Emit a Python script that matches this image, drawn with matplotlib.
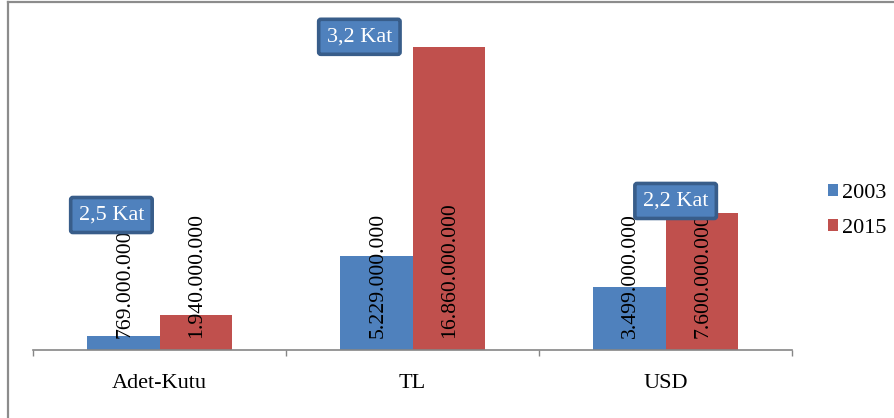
import matplotlib
matplotlib.use("Agg")
import matplotlib.pyplot as plt
from matplotlib.lines import Line2D
import numpy as np

categories = ["Adet-Kutu", "TL", "USD"]
series_names = ["2003", "2015"]
values_2003 = [769_000_000, 5_229_000_000, 3_499_000_000]
values_2015 = [1_940_000_000, 16_860_000_000, 7_600_000_000]

# callout anchor points (data coords: category position, value)
callout_x = [-0.19, 0.79, 2.04]
callout_y = [7.5e9, 17.4e9, 8.28e9]

blue = "#4F81BD"
red = "#C0504D"
edge_blue = "#385D8A"
axis_gray = "#868686"
serif = ["Liberation Serif", "DejaVu Serif"]

W, H, DPI = 894, 418, 100
fig = plt.figure(figsize=(W / DPI, H / DPI), dpi=DPI)
fig.patch.set_facecolor("white")

ax = fig.add_axes([33 / W, (H - 350) / H, (792 - 33) / W, (350 - 26) / H])
ax.set_xlim(-0.5, 2.5)
ax.set_ylim(0, 18e9)

x = np.arange(len(categories))
bw = 1 / 3.5
bars1 = ax.bar(x - bw / 2, values_2003, bw, color=blue, label=series_names[0], zorder=2)
bars2 = ax.bar(x + bw / 2, values_2015, bw, color=red, label=series_names[1], zorder=2)

def fmt(v):
    return f"{v:,}".replace(",", ".")

for bars, vals in ((bars1, values_2003), (bars2, values_2015)):
    for b, v in zip(bars, vals):
        ax.annotate(fmt(v), xy=(b.get_x() + b.get_width() / 2, 0),
                    xytext=(1, 8.6), textcoords="offset points",
                    rotation=90, ha="center", va="bottom",
                    fontsize=15.7, family=serif, color="black", zorder=3)

for cx, cy, a, b in zip(callout_x, callout_y, values_2003, values_2015):
    ratio = f"{b / a:.1f}".replace(".", ",") + " Kat"
    ax.text(cx, cy, ratio, ha="center", va="center", fontsize=16,
            family=serif, color="white", zorder=5,
            bbox=dict(boxstyle="round,pad=0.36,rounding_size=0.1",
                      facecolor=blue, edgecolor=edge_blue, linewidth=2.6))

for s in ("left", "right", "top"):
    ax.spines[s].set_visible(False)
ax.spines["bottom"].set_color(axis_gray)
ax.spines["bottom"].set_linewidth(1.2)
ax.set_yticks([])

ax.set_xticks([-0.5, 0.5, 1.5, 2.5])
ax.set_xticklabels([])
ax.tick_params(axis="x", which="major", direction="out", length=4.5,
               color=axis_gray, width=1)
ax.set_xticks(x, minor=True)
ax.set_xticklabels(categories, minor=True, fontsize=16, family=serif)
ax.tick_params(axis="x", which="minor", length=0, pad=17)

ax.legend(loc="center left", bbox_to_anchor=(828 / W, (H - 211) / H),
          bbox_transform=fig.transFigure, frameon=False,
          prop={"family": serif, "size": 16},
          handlelength=0.45, handleheight=0.45, handletextpad=0.2,
          labelspacing=0.72, borderpad=0, borderaxespad=0)

# outer chart frame
fig.add_artist(Line2D([8 / W, 8 / W], [0, (H - 1.5) / H], transform=fig.transFigure,
                      color="#8C8C8C", linewidth=1.6))
fig.add_artist(Line2D([8 / W, 1], [(H - 1.5) / H, (H - 1.5) / H], transform=fig.transFigure,
                      color="#8C8C8C", linewidth=1.6))

fig.savefig("out.png", dpi=DPI)
